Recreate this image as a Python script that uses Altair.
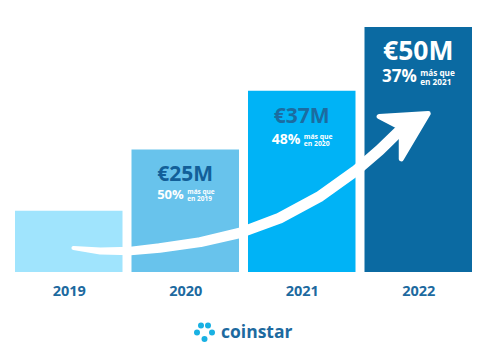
import altair as alt
import pandas as pd
import json

# ---- data ----
years = ["2019", "2020", "2021", "2022"]
revenue = [12.5, 25, 37, 50]          # €M (2019 bar estimated from its height)
amount_labels = ["", "€25M", "€37M", "€50M"]
growth_labels = ["", "50%", "48%", "37%"]
compare_labels = ["", "más que\nen 2019", "más que\nen 2020", "más que\nen 2021"]
bar_colors = ["#a0e4fd", "#68c3ec", "#00b3f6", "#0b6aa2"]

# decorative growth arrow, in chart units (x: bar index, y: €M)
arrow_x = [0.04, 0.27, 0.53, 0.78, 1.13, 1.47, 1.81, 2.16, 2.46, 2.67, 2.83]
arrow_y = [4.9, 4.3, 4.3, 4.9, 6.1, 8.0, 11.0, 15.5, 20.6, 24.9, 28.6]
arrow_w = [4, 7, 8.5, 9.5, 10, 10.5, 11, 11, 11, 11, 11]
head_x = [2.875]
head_y = [27.6]

FONT = "Open Sans"
BLUE = "#1d6a9f"
HALF = 0.4614  # half bar width in slot units

df = pd.DataFrame({
    "pos": list(range(len(years))), "year": years, "revenue": revenue,
    "color": bar_colors, "amount": amount_labels, "growth": growth_labels,
    "compare": compare_labels,
})

xscale = alt.Scale(domain=[-0.5, len(years) - 0.5], nice=False, zero=False)
xaxis = alt.Axis(title=None, ticks=False, domain=False, grid=False, labelAngle=0,
                 values=list(range(len(years))),
                 labelExpr=f"{json.dumps(years)}[datum.value]",
                 labelFont=FONT, labelFontSize=14.5, labelFontWeight="bold",
                 labelColor=BLUE, labelPadding=12)
yscale = alt.Scale(domain=[0, 50], nice=False)

base = alt.Chart(df)
bars = base.transform_calculate(
    x0=f"datum.pos - {HALF}", x1=f"datum.pos + {HALF}"
).mark_bar().encode(
    x=alt.X("x0:Q", scale=xscale, axis=xaxis),
    x2="x1:Q",
    y=alt.Y("revenue:Q", scale=yscale, axis=None),
    y2=alt.datum(0),
    color=alt.Color("color:N", scale=None),
)

styles = {
    "2020": dict(main=21, main_color="#125f99", main_dy=25.5, pct=13, pct_dy=45.5,
                 small=6.5, lh=6.5, small_dy=42.5),
    "2021": dict(main=21, main_color="#1b6ca1", main_dy=26.5, pct=14, pct_dy=49.5,
                 small=6.8, lh=6.5, small_dy=46.5),
    "2022": dict(main=26.5, main_color="#ffffff", main_dy=25, pct=17, pct_dy=50,
                 small=8.2, lh=8.5, small_dy=47),
}

text_layers = []
for yr, s in styles.items():
    b = base.transform_filter(alt.datum.year == yr)
    enc = dict(x=alt.X("pos:Q"), y=alt.Y("revenue:Q"))
    text_layers.append(b.mark_text(font=FONT, fontWeight="bold", fontSize=s["main"],
                                   color=s["main_color"], baseline="middle",
                                   dy=s["main_dy"]).encode(text="amount:N", **enc))
    text_layers.append(b.mark_text(font=FONT, fontWeight="bold", fontSize=s["pct"],
                                   color="white", baseline="middle", align="right",
                                   dx=-1.5, dy=s["pct_dy"]).encode(text="growth:N", **enc))
    text_layers.append(b.mark_text(font=FONT, fontWeight="bold", fontSize=s["small"],
                                   color="white", baseline="middle", align="left",
                                   lineBreak="\n", lineHeight=s["lh"],
                                   dx=2, dy=s["small_dy"]).encode(text="compare:N", **enc))

arrow_df = pd.DataFrame({"ax": arrow_x, "ay": arrow_y, "w": arrow_w,
                         "o": list(range(len(arrow_x)))})
head_df = pd.DataFrame({"ax": head_x, "ay": head_y})
trail = alt.Chart(arrow_df).mark_trail(color="white").encode(
    x=alt.X("ax:Q"),
    y=alt.Y("ay:Q"),
    size=alt.Size("w:Q", scale=None, legend=None),
    order="o:Q",
)
head = alt.Chart(head_df).mark_point(
    shape="M-0.91,-0.75 L0.91,-0.86 L-0.09,0.82 L-0.09,-0.32 Z",
    size=2916, filled=True, fill="white", stroke="white", strokeWidth=5,
    strokeJoin="round", opacity=1,
).encode(x=alt.X("ax:Q"), y=alt.Y("ay:Q"))

# logo (decorative), placed in pixels below the plot
logo_dot_px = [(190.5, 298.5), (197.5, 298.5), (186.5, 305.5), (201.5, 305.5), (194, 312)]
one = pd.DataFrame({"t": ["coinstar"]})
logo_layers = [
    alt.Chart(one).mark_circle(color="#19b1e3", size=36, opacity=1).encode(
        x=alt.value(px), y=alt.value(py))
    for px, py in logo_dot_px
]
logo_layers.append(alt.Chart(one).mark_text(
    font=FONT, fontSize=17.5, fontWeight="bold", color=BLUE, align="left",
    baseline="alphabetic").encode(text="t:N", x=alt.value(210.5), y=alt.value(311)))

chart = alt.layer(bars, *text_layers, trail, head, *logo_layers).properties(
    width=466, height=245,
    padding={"left": 2.5, "top": 19, "right": 0, "bottom": 8},
).configure_view(stroke=None)

chart.save("out.html", embed_options={"renderer": "svg", "actions": False})
